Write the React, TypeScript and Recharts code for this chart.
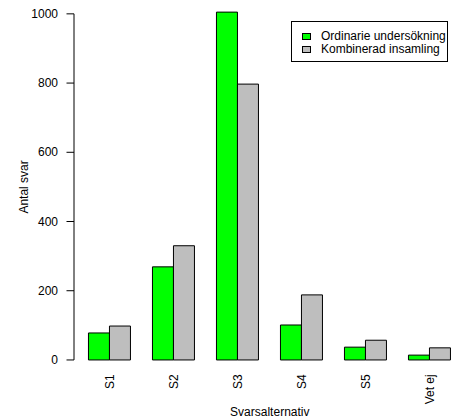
import React from 'react';
import { BarChart, Bar, XAxis, YAxis, Legend, ReferenceLine, Label } from 'recharts';

const categories = ['S1', 'S2', 'S3', 'S4', 'S5', 'Vet ej'];
const ordinarie = [78, 269, 1005, 101, 37, 14];
const kombinerad = [98, 330, 797, 188, 57, 35];
const yTicks = [0, 200, 400, 600, 800, 1000];
const seriesNames = ['Ordinarie undersökning', 'Kombinerad insamling'];
const seriesColors = ['#00FF00', '#BEBEBE'];

const data = categories.map((c, i) => ({ name: c, ord: ordinarie[i], komb: kombinerad[i] }));

const FONT = 'Liberation Sans, Arial, sans-serif';

const XTick = (props: any) => {
  const { x, y, payload } = props;
  return (
    <text
      x={x}
      y={y}
      transform={`rotate(-90, ${x}, ${y})`}
      textAnchor="end"
      dominantBaseline="central"
      fontSize={12}
      fontFamily={FONT}
      fill="#000"
    >
      {payload.value}
    </text>
  );
};

const YTick = (props: any) => {
  const { x, y, payload } = props;
  return (
    <text x={x} y={y} textAnchor="end" dominantBaseline="central" fontSize={12} fontFamily={FONT} fill="#000">
      {payload.value}
    </text>
  );
};

const YLabel = (props: any) => {
  const vb = props.viewBox || {};
  const cx = (vb.x || 0) + 28.5;
  const cy = (vb.y || 0) + (vb.height || 0) / 2;
  return (
    <text x={cx} y={cy} transform={`rotate(-90, ${cx}, ${cy})`} textAnchor="middle" fontSize={12} fontFamily={FONT} fill="#000">
      Antal svar
    </text>
  );
};

const XLabel = (props: any) => {
  const vb = props.viewBox || {};
  const cx = (vb.x || 0) + (vb.width || 0) / 2;
  return (
    <text x={cx} y={415.5} textAnchor="middle" fontSize={12} fontFamily={FONT} fill="#000">
      Svarsalternativ
    </text>
  );
};

const LegendBox = () => (
  <div
    style={{
      border: '1px solid #000',
      background: '#fff',
      width: 155,
      height: 39,
      boxSizing: 'content-box',
      position: 'relative',
      fontFamily: FONT,
      fontSize: 12,
      color: '#000',
    }}
  >
    {seriesNames.map((n, i) => (
      <div key={n} style={{ position: 'absolute', left: 0, top: 7.5 + i * 13, height: 12, width: 155 }}>
        <div
          style={{
            position: 'absolute',
            left: 10,
            top: 3,
            width: 7,
            height: 5,
            border: '1px solid #000',
            background: seriesColors[i],
          }}
        />
        <div style={{ position: 'absolute', left: 29, top: 0, lineHeight: '12px', height: 12, whiteSpace: 'nowrap' }}>{n}</div>
      </div>
    ))}
  </div>
);

export default function App() {
  return (
    <div style={{ position: 'absolute', left: 0, top: 0, width: 462, height: 418, overflow: 'hidden', background: '#fff' }}>
      <BarChart
        width={470}
        height={418}
        data={data}
        margin={{ top: 0, right: 4.4, bottom: 0, left: 0 }}
        barCategoryGap="16.667%"
        barGap={0}
        style={{ fontFamily: FONT }}
      >
        <XAxis
          dataKey="name"
          height={44.2}
          axisLine={false}
          tickLine={false}
          tickSize={0}
          tickMargin={0.5}
          padding={{ left: 3.8, right: 3.8 }}
          tick={<XTick />}
          interval={0}
        >
          <Label content={<XLabel />} />
        </XAxis>
        <XAxis xAxisId="n" type="number" domain={[0, 1]} hide />
        <YAxis
          width={74}
          domain={[-40, 1040]}
          ticks={yTicks}
          axisLine={false}
          tickLine={{ stroke: '#000', strokeWidth: 1 }}
          tickSize={7.5}
          tickMargin={8.5}
          tick={<YTick />}
          interval={0}
        >
          <Label content={<YLabel />} />
        </YAxis>
        <ReferenceLine
          xAxisId="n"
          segment={[{ x: 0, y: 0 }, { x: 0, y: 1000 }]}
          stroke="#000"
          strokeWidth={1}
        />
        <Bar dataKey="ord" name={seriesNames[0]} fill={seriesColors[0]} stroke="#000" strokeWidth={1} isAnimationActive={false} />
        <Bar dataKey="komb" name={seriesNames[1]} fill={seriesColors[1]} stroke="#000" strokeWidth={1} isAnimationActive={false} />
        <Legend
          layout="vertical"
          align="center"
          verticalAlign="middle"
          content={<LegendBox />}
          wrapperStyle={{ position: 'absolute', left: 291, top: 21, width: 157, height: 41 }}
        />
      </BarChart>
    </div>
  );
}
